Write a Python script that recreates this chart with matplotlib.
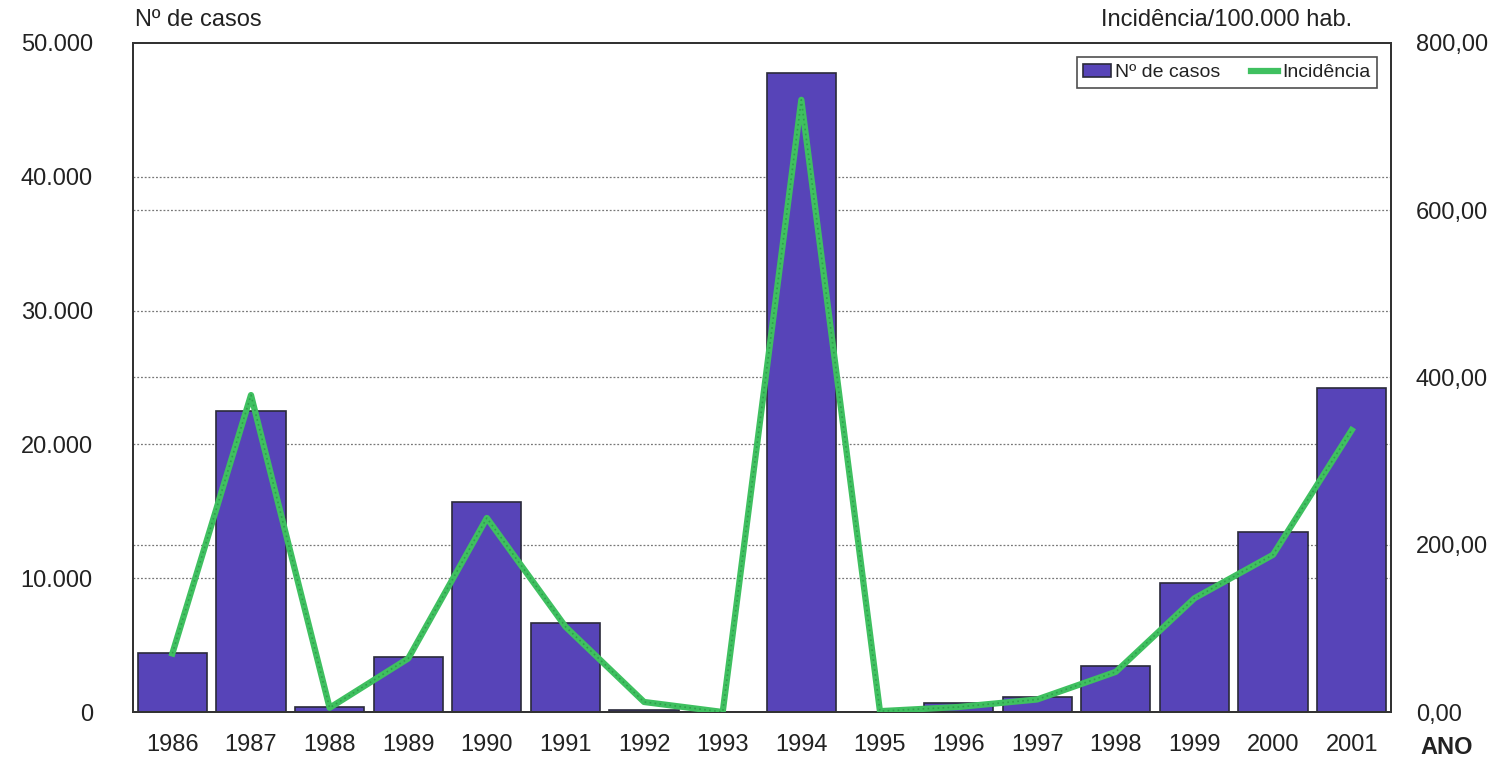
import matplotlib
matplotlib.use("Agg")
import matplotlib.pyplot as plt
from matplotlib.ticker import FixedLocator

plt.rcParams['font.family'] = ['Liberation Sans', 'DejaVu Sans']

anos = ['1986', '1987', '1988', '1989', '1990', '1991', '1992', '1993',
        '1994', '1995', '1996', '1997', '1998', '1999', '2000', '2001']
casos = [4400, 22500, 370, 4100, 15700, 6650, 150, 0,
         47750, 30, 670, 1120, 3440, 9640, 13450, 24250]
incidencia = [70, 379, 5, 64, 232, 102, 12, 0,
              732, 1, 6, 15, 48, 136, 188, 337]

left_ticks = [0, 10000, 20000, 30000, 40000, 50000]
left_labels = ['0', '10.000', '20.000', '30.000', '40.000', '50.000']
right_ticks = [0, 200, 400, 600, 800]
right_labels = ['0,00', '200,00', '400,00', '600,00', '800,00']

bar_color = '#5744b8'
line_color = '#3fc060'
txt = '#222222'

fig = plt.figure(figsize=(15.07, 7.67), dpi=100)
ax = fig.add_axes([0.0883, 0.0717, 0.8347, 0.8723])
ax2 = ax.twinx()

x = list(range(len(anos)))
ax.set_xlim(-0.5, len(anos) - 0.5)
ax.set_ylim(0, 50000)
ax2.set_ylim(0, 800)

# grid lines (behind bars) for both scales
for v in left_ticks[1:-1]:
    ax.axhline(v, color='#777777', lw=0.9, ls=(0, (1.5, 1.5)), zorder=0)
for v in right_ticks[1:-1]:
    ax.axhline(v * 50000 / 800, color='#777777', lw=0.9, ls=(0, (1.5, 1.5)), zorder=0)

bars = ax.bar(x, casos, width=0.88, color=bar_color, edgecolor='#2a2a3a',
              linewidth=1.2, zorder=2, label='Nº de casos')
line, = ax2.plot(x, incidencia, color=line_color, lw=4.5, solid_joinstyle='round',
                 zorder=3, label='Incidência')
ax2.plot(x, incidencia, color='#2f9e4c', lw=1.2, ls=(0, (1, 2)), zorder=4)

ax.set_xticks(x)
ax.set_xticklabels(anos, fontsize=17, color=txt)
ax.yaxis.set_major_locator(FixedLocator(left_ticks))
ax.set_yticklabels(left_labels, fontsize=17, color=txt)
ax2.yaxis.set_major_locator(FixedLocator(right_ticks))
ax2.set_yticklabels(right_labels, fontsize=17, color=txt, ha='left')

ax.tick_params(axis='x', length=0, pad=16)
ax.tick_params(axis='y', length=0, pad=29)
ax2.tick_params(axis='y', length=0, pad=18)

for a in (ax, ax2):
    for s in a.spines.values():
        s.set_color('#333333')
        s.set_linewidth(1.4)

fig.text(0.0896, 0.974, 'Nº de casos', fontsize=17, color=txt, ha='left', va='center')
fig.text(0.897, 0.974, 'Incidência/100.000 hab.', fontsize=17, color=txt, ha='right', va='center')
fig.text(0.9425, 0.025, 'ANO', fontsize=17, color=txt, ha='left', va='center', fontweight='bold')

leg = ax2.legend([bars, line], ['Nº de casos', 'Incidência'], loc='upper right',
                 bbox_to_anchor=(0.989, 0.979), borderaxespad=0, ncol=2,
                 fontsize=14, frameon=True, fancybox=False, handlelength=1.4,
                 handletextpad=0.2, columnspacing=1.6, borderpad=0.35)
leg.get_frame().set_edgecolor('#222222')
leg.get_frame().set_linewidth(1.2)
for t in leg.get_texts():
    t.set_color(txt)

fig.savefig('out.png', dpi=100)
